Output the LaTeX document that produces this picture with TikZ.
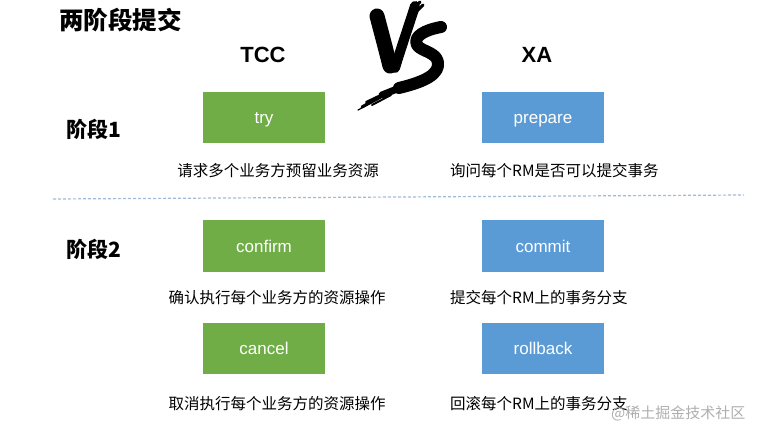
\documentclass[tikz,border=0pt]{standalone}
\usepackage{fontspec}
\setmainfont{Noto Sans CJK SC}
\newfontfamily\latinfont{Liberation Sans}
\definecolor{tccgreen}{RGB}{112,173,71}
\definecolor{xablue}{RGB}{91,155,213}
\definecolor{wmgray}{RGB}{175,175,175}
\definecolor{dashblue}{RGB}{160,188,215}
\begin{document}
\begin{tikzpicture}[x=1pt,y=-1pt,
  gbox/.style={fill=tccgreen,minimum width=122pt,minimum height=51pt,inner sep=0pt,text height=15pt,text depth=3pt,text=white,font=\latinfont\fontsize{17}{17}\selectfont},
  bbox/.style={gbox,fill=xablue},
  desc/.style={font=\fontsize{15.5}{16}\selectfont,inner sep=0pt,text=black},
  phase/.style={font=\bfseries\fontsize{21}{21}\selectfont,inner sep=0pt,anchor=west},
  head/.style={font=\latinfont\bfseries\fontsize{22}{22}\selectfont,inner sep=0pt},
  vsstroke/.style={line width=#1,line cap=round,line join=round,draw=black}]
\useasboundingbox (0,0) rectangle (770,438);
\fill[white] (0,0) rectangle (770,438);
% title
\node[font=\bfseries\fontsize{24.5}{24.5}\selectfont,inner sep=0pt,anchor=west] (title) at (59,20) {两阶段提交};
\node[head] (tcc) at (263,55) {TCC};
\node[head] (xa) at (537,55) {XA};
% VS logo
\draw[vsstroke=15pt] (377,16) .. controls (382,35) and (386,50) .. (390,66);
\fill[black] (383,60) -- (397,60) -- (392,73) -- cycle;
\draw[vsstroke=10pt] (415,6) .. controls (408,28) and (401,48) .. (395,68);
\draw[vsstroke=3pt] (420,2) -- (412,9);
\draw[vsstroke=3pt] (423,5) -- (417,11);
\draw[vsstroke=12pt] (441,27) .. controls (425,30) and (413,36) .. (417,45) .. controls (421,52) and (440,52) .. (438,66) .. controls (436,78) and (415,84) .. (399,88);
\draw[vsstroke=7pt] (402,87) -- (382,95);
\draw[vsstroke=3pt] (386,93) -- (362,107);
\draw[vsstroke=2pt] (389,91) -- (366,102);
\draw[vsstroke=2pt] (391,95) -- (372,105);
\draw[vsstroke=1.2pt] (381,98) -- (358,110);
% phases
\node[phase] (p1) at (66,129) {阶段1};
\node[phase] (p2) at (66,249) {阶段2};
% dashed divider
\coordinate (dl) at (53,199);
\coordinate (dr) at (744,195);
\draw[dashblue,line width=1.2pt,dash pattern=on 3pt off 2pt] (dl) -- (dr);
% boxes
\node[gbox] (try) at (264,118) {try};
\node[bbox] (prepare) at (543,118) {prepare};
\node[gbox] (confirm) at (264,246) {confirm};
\node[bbox] (commit) at (543,246) {commit};
\node[gbox] (cancel) at (264,348) {cancel};
\node[bbox] (rollback) at (543,348) {rollback};
% descriptions
\node[desc] (d1) at (278,171) {请求多个业务方预留业务资源};
\node[desc,anchor=west] (d2) at (450,171) {询问每个RM是否可以提交事务};
\node[desc] (d3) at (277,298) {确认执行每个业务方的资源操作};
\node[desc,anchor=west] (d4) at (450,298) {提交每个RM上的事务分支};
\node[desc] (d5) at (277,404) {取消执行每个业务方的资源操作};
\node[desc,anchor=west] (d6) at (450,404) {回滚每个RM上的事务分支};
% watermark
\node[font=\fontsize{15}{15}\selectfont,text=wmgray,inner sep=0pt,anchor=west] (wm) at (611,413) {@稀土掘金技术社区};
\end{tikzpicture}
\end{document}
